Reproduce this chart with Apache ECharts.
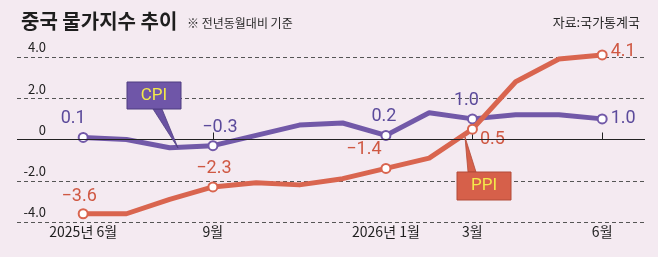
<!DOCTYPE html>
<html>
<head>
<meta charset="utf-8">
<script src="https://cdn.jsdelivr.net/npm/echarts@6/dist/echarts.min.js"></script>
<style>
  html, body { margin: 0; padding: 0; background: #f4eaf1; }
  #chart { width: 658px; height: 257px; }
</style>
</head>
<body>
<div id="chart"></div>
<script>
// 월별 (2025년 6월 ~ 2026년 6월)
const months = ['2025년 6월', '7월', '8월', '9월', '10월', '11월', '12월', '2026년 1월', '2월', '3월', '4월', '5월', '6월']
const tickIdx = [0, 3, 7, 9, 12]
// 전년동월대비 %
const cpi = [0.1, 0.0, -0.4, -0.3, 0.2, 0.7, 0.8, 0.2, 1.3, 1.0, 1.2, 1.2, 1.0]
const ppi = [-3.6, -3.6, -2.9, -2.3, -2.1, -2.2, -1.9, -1.4, -0.9, 0.5, 2.8, 3.9, 4.1]

const FONT = '"Noto Sans CJK KR", "Noto Sans", sans-serif'
const cpiColor = '#7259a8'
const ppiColor = '#d9654f'

// 값 라벨 위치
const cpiLabelPos = {
  0: { position: 'top', offset: [-10, 0] },
  3: { position: 'top', offset: [7, 0] },
  7: { position: 'top', offset: [-2, 0] },
  9: { position: 'top', offset: [-6, 0] },
  12: { position: 'right', offset: [-1, 0] }
}
const ppiLabelPos = {
  0: { position: 'top', offset: [-4, 1] },
  3: { position: 'top', offset: [1, 0] },
  7: { position: 'top', offset: [-22, 0] },
  9: { position: 'right', offset: [-2, 10] },
  12: { position: 'right', offset: [-1, -3] }
}

function fmt(v) {
  return v < 0 ? '−' + Math.abs(v).toFixed(1) : v.toFixed(1)
}

function buildData(values, labelPos, color) {
  return values.map((v, i) => {
    const lp = labelPos[i]
    if (!lp) {
      return { value: [i, v], symbol: 'none' }
    }
    return {
      value: [i, v],
      label: {
        show: true,
        position: lp.position,
        offset: lp.offset,
        distance: 4,
        color: color,
        fontSize: 18,
        fontFamily: 'Roboto, sans-serif',
        formatter: () => fmt(v)
      }
    }
  })
}

const chart = echarts.init(document.getElementById('chart'))
chart.setOption({
  backgroundColor: '#f4eaf1',
  animation: false,
  title: [
    {
      text: '중국 물가지수 추이',
      left: 16,
      top: 6,
      textStyle: { fontSize: 20, fontWeight: 'bold', color: '#1e1e1e', fontFamily: FONT }
    },
    {
      text: '※ 전년동월대비 기준',
      left: 182,
      top: 12,
      textStyle: { fontSize: 12, fontWeight: 'normal', color: '#2a2a2a', fontFamily: FONT }
    },
    {
      text: '자료:국가통계국',
      right: 13,
      top: 11,
      textStyle: { fontSize: 13, fontWeight: 'normal', color: '#2a2a2a', fontFamily: FONT }
    }
  ],
  grid: {
    left: 17,
    right: 13,
    top: 57,
    bottom: 35
  },
  xAxis: {
    type: 'value',
    min: -1.53,
    max: 12.99,
    axisLine: { show: false },
    splitLine: { show: false },
    axisTick: {
      show: true,
      inside: true,
      length: 7,
      customValues: tickIdx,
      lineStyle: { color: '#222', width: 1 }
    },
    axisLabel: {
      customValues: tickIdx,
      formatter: v => months[v],
      color: '#1e1e1e',
      fontSize: 14,
      fontFamily: FONT,
      margin: 3
    }
  },
  yAxis: {
    type: 'value',
    min: -4,
    max: 4,
    interval: 2,
    axisLine: { show: false },
    axisTick: { show: false },
    axisLabel: {
      formatter: v => (v === 0 ? '0' : (v < 0 ? '-' : '') + Math.abs(v).toFixed(1)),
      color: '#1e1e1e',
      fontSize: 13,
      fontFamily: FONT,
      align: 'right',
      verticalAlign: 'bottom',
      margin: -29,
      padding: [0, 0, 3, 0]
    },
    splitLine: {
      show: true,
      lineStyle: { color: '#555', type: [4, 3], width: 1 }
    }
  },
  series: [
    {
      // 0 기준선
      type: 'line',
      data: [],
      z: 1,
      markLine: {
        silent: true,
        symbol: ['none', 'none'],
        label: { show: false },
        lineStyle: { color: '#222', type: 'solid', width: 1 },
        data: [{ yAxis: 0 }]
      }
    },
    {
      name: 'CPI',
      type: 'line',
      z: 3,
      clip: false,
      symbol: 'circle',
      symbolSize: 9,
      itemStyle: { color: '#fff', borderColor: cpiColor, borderWidth: 2 },
      lineStyle: { color: cpiColor, width: 5, join: 'round', cap: 'round' },
      data: buildData(cpi, cpiLabelPos, '#5b4a9b')
    },
    {
      name: 'PPI',
      type: 'line',
      z: 4,
      clip: false,
      symbol: 'circle',
      symbolSize: 9,
      itemStyle: { color: '#fff', borderColor: ppiColor, borderWidth: 2 },
      lineStyle: { color: ppiColor, width: 5, join: 'round', cap: 'round' },
      data: buildData(ppi, ppiLabelPos, '#cf5843')
    }
  ],
  graphic: [
    {
      type: 'polygon',
      z: 10,
      shape: { points: [[153, 109], [162, 109], [178, 148]] },
      style: { fill: '#6a52a2', stroke: '#4e3c80', lineWidth: 0.8 }
    },
    {
      type: 'rect',
      z: 11,
      shape: { x: 127, y: 82, width: 54, height: 27 },
      style: { fill: '#6f56a8', stroke: '#4e3c80', lineWidth: 1 }
    },
    {
      type: 'text',
      z: 12,
      x: 154,
      y: 96,
      style: {
        text: 'CPI',
        fill: '#f4ea4a',
        font: '17px Roboto, sans-serif',
        align: 'center',
        verticalAlign: 'middle'
      }
    },
    {
      type: 'polygon',
      z: 10,
      shape: { points: [[465, 137], [468, 172], [476, 172]] },
      style: { fill: '#d6604a', stroke: '#b24a38', lineWidth: 0.8 }
    },
    {
      type: 'rect',
      z: 11,
      shape: { x: 457, y: 172, width: 54, height: 28 },
      style: { fill: '#d6604a', stroke: '#b24a38', lineWidth: 1 }
    },
    {
      type: 'text',
      z: 12,
      x: 484,
      y: 186,
      style: {
        text: 'PPI',
        fill: '#f4ea4a',
        font: '17px Roboto, sans-serif',
        align: 'center',
        verticalAlign: 'middle'
      }
    }
  ]
})
</script>
</body>
</html>
